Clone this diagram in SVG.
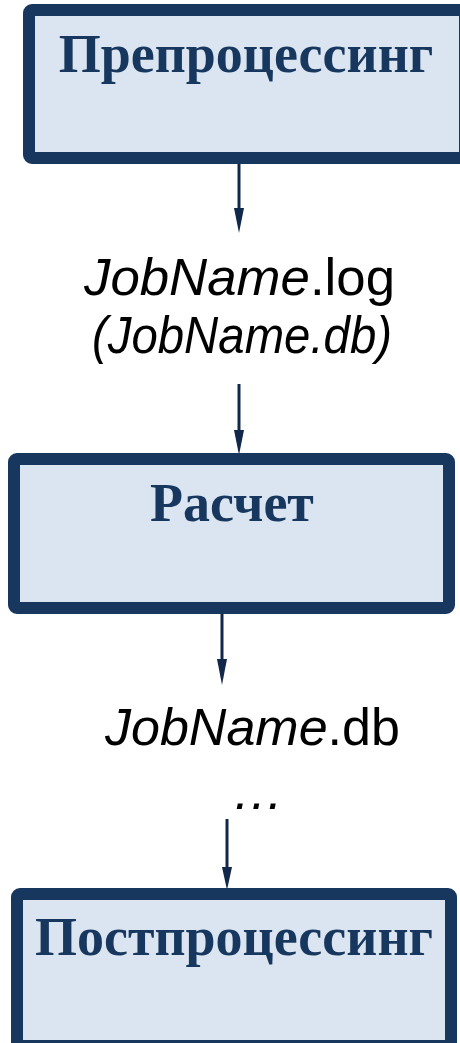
<svg xmlns="http://www.w3.org/2000/svg" width="460" height="1043" viewBox="0 0 460 1043">
<style>
.box{fill:#DBE5F1;stroke:#17375E;stroke-width:12}
.title{font-family:"Liberation Serif",serif;font-weight:bold;font-size:54px;fill:#17375E;text-anchor:middle}
.lbl{font-family:"Liberation Sans",Arial,sans-serif;font-size:52px;fill:#000}
.conn{stroke:#12284A;stroke-width:3;fill:none}
.head{fill:#12284A}
</style>
<rect width="460" height="1043" fill="#fff"/>
<g id="connectors">
<line class="conn" x1="239" y1="164" x2="239" y2="210"/>
<polygon class="head" points="234,208 244,208 239,233"/>
<line class="conn" x1="239" y1="384" x2="239" y2="432"/>
<polygon class="head" points="234,430 244,430 239,455"/>
<line class="conn" x1="222" y1="613" x2="222" y2="661"/>
<polygon class="head" points="217,659 227,659 222,685"/>
<line class="conn" x1="227" y1="819" x2="227" y2="869"/>
<polygon class="head" points="222,867 232,867 227,890"/>
</g>
<g id="node-preprocessing">
<rect class="box" x="29" y="10" width="436" height="148" rx="3"/>
<text class="title" x="246" y="72">Препроцессинг</text>
</g>
<g id="label-log">
<text class="lbl" x="84" y="295" textLength="311" lengthAdjust="spacingAndGlyphs"><tspan font-style="italic">JobName</tspan>.log</text>
<text class="lbl" x="92" y="353" font-size="44" font-style="italic" textLength="300" lengthAdjust="spacingAndGlyphs">(JobName.db)</text>
</g>
<g id="node-calc">
<rect class="box" x="14" y="459" width="435" height="149" rx="3"/>
<text class="title" x="232" y="521">Расчет</text>
</g>
<g id="label-db">
<text class="lbl" x="105" y="745"><tspan font-style="italic">JobName</tspan>.db</text>
<text class="lbl" x="232" y="809" font-style="italic">…</text>
</g>
<g id="node-postprocessing">
<rect class="box" x="17" y="894" width="434" height="152" rx="3"/>
<text class="title" x="234" y="955">Постпроцессинг</text>
</g>
</svg>
